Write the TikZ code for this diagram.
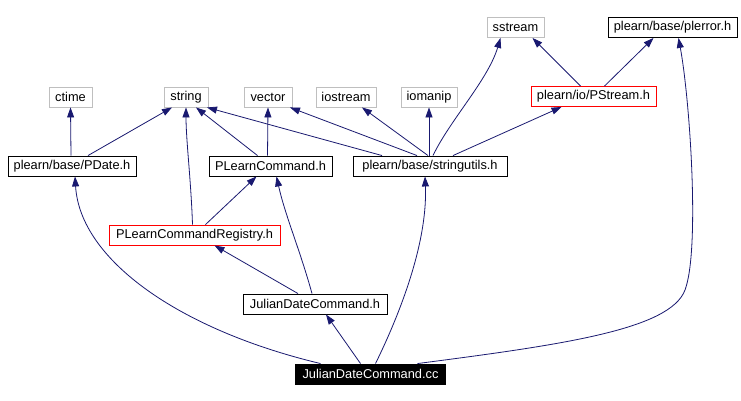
\documentclass[tikz,border=0pt]{standalone}
\usepackage{fontspec}
\setmainfont{Liberation Sans}
\usetikzlibrary{arrows.meta}
\definecolor{edgecol}{HTML}{191970}
\definecolor{graybox}{HTML}{BFBFBF}
\begin{document}
\begin{tikzpicture}[x=1pt,y=-1pt,
  box/.style={draw=black,fill=white,rectangle,inner sep=0pt,minimum height=20pt,line width=0.9pt,font=\fontsize{12.8}{15}\selectfont},
  gbox/.style={box,draw=graybox},
  rbox/.style={box,draw=red},
  cbox/.style={box,fill=black,text=white},
  edge/.style={draw=edgecol,line width=0.8pt,-{Triangle[length=10pt,width=7pt]}}]
\useasboundingbox[fill=white] (0,0) rectangle (741,401);
% nodes
\node[gbox,minimum width=57pt] (sstream) at (515.5,27.5) {sstream};
\node[box,minimum width=129pt] (plerror) at (672.5,27.5) {plearn/base/plerror.h};
\node[rbox,minimum width=125pt] (pstream) at (593.5,96.5) {plearn/io/PStream.h};
\node[gbox,minimum width=43pt] (ctime) at (70.5,97) {ctime};
\node[gbox,minimum width=44pt] (string) at (186,97) {string};
\node[gbox,minimum width=48pt] (vector) at (268,97) {vector};
\node[gbox,minimum width=60pt] (iostream) at (346,97) {iostream};
\node[gbox,minimum width=56pt] (iomanip) at (429,97) {iomanip};
\node[box,minimum width=128pt] (pdate) at (72,166) {plearn/base/PDate.h};
\node[box,minimum width=123pt] (plc) at (270.5,166) {PLearnCommand.h};
\node[box,minimum width=154pt] (su) at (430,166) {plearn/base/stringutils.h};
\node[rbox,minimum width=171pt] (reg) at (194.5,235) {PLearnCommandRegistry.h};
\node[box,minimum width=144pt] (jdch) at (315,304) {JulianDateCommand.h};
\node[cbox,minimum width=150pt] (cc) at (370.5,374) {JulianDateCommand.cc};
% edges
\draw[edge] ([xshift=-50pt]cc.north) .. controls (180,330) and (80,260) .. ([xshift=3pt]pdate.south);
\draw[edge] ([xshift=-10pt]cc.north) -- ([xshift=11pt]jdch.south);
\draw[edge] ([xshift=5pt]cc.north) .. controls (392,330) and (428,250) .. ([xshift=-5pt]su.south);
\draw[edge] ([xshift=47pt]cc.north) .. controls (560,345) and (670,330) .. (685,290) .. controls (700,250) and (690,100) .. ([xshift=6pt]plerror.south);
\draw[edge] ([xshift=-17pt]jdch.north) -- ([xshift=20pt]reg.south);
\draw[edge] ([xshift=-3pt]jdch.north) .. controls (300,250) and (285,215) .. ([xshift=6pt]plc.south);
\draw[edge] ([xshift=-2pt]reg.north) .. controls (191,180) and (186,140) .. (string.south);
\draw[edge] ([xshift=11pt]reg.north) -- ([xshift=-14pt]plc.south);
\draw[edge] ([xshift=-1pt]pdate.north) -- (ctime.south);
\draw[edge] ([xshift=16pt]pdate.north) -- ([xshift=-14pt]string.south);
\draw[edge] ([xshift=-13pt]plc.north) -- ([xshift=10pt]string.south);
\draw[edge] ([xshift=-3pt]plc.north) -- (vector.south);
\draw[edge] ([xshift=-48pt]su.north) -- ([xshift=21pt]string.south);
\draw[edge] ([xshift=-13pt]su.north) -- ([xshift=22pt]vector.south);
\draw[edge] ([xshift=-2pt]su.north) -- ([xshift=16pt]iostream.south);
\draw[edge] ([xshift=-1pt]su.north) -- (iomanip.south);
\draw[edge] ([xshift=3pt]su.north) .. controls (450,120) and (488,80) .. ([xshift=-15pt]sstream.south);
\draw[edge] ([xshift=23pt]su.north) -- ([xshift=-32pt]pstream.south);
\draw[edge] ([xshift=-13pt]pstream.north) -- ([xshift=17pt]sstream.south);
\draw[edge] ([xshift=11pt]pstream.north) -- ([xshift=-19pt]plerror.south);
\end{tikzpicture}
\end{document}
